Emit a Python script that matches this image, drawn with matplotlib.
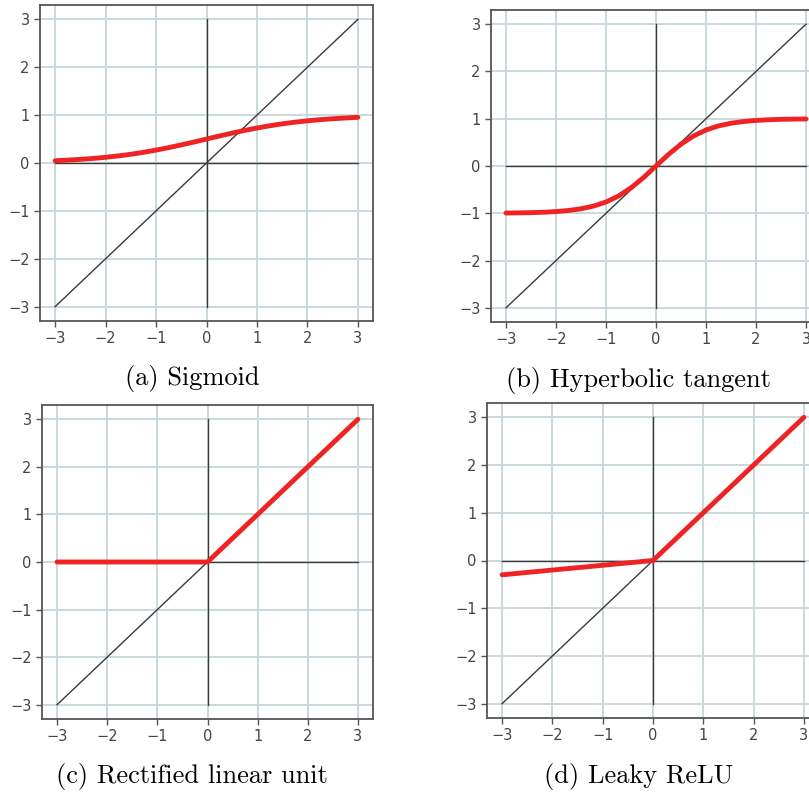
import numpy as np
import matplotlib
matplotlib.use("Agg")
from matplotlib import pyplot as plt

# valores
x_curva = [-3, -2.75, -2.5, -2.25, -2, -1.75, -1.5, -1.25, -1, -0.75, -0.5, -0.25, 0,
           0.25, 0.5, 0.75, 1, 1.25, 1.5, 1.75, 2, 2.25, 2.5, 2.75, 3]
y_sigmoid = [0.047, 0.060, 0.076, 0.095, 0.119, 0.148, 0.182, 0.223, 0.269, 0.321, 0.378, 0.438, 0.5,
             0.562, 0.622, 0.679, 0.731, 0.777, 0.818, 0.852, 0.881, 0.905, 0.924, 0.940, 0.953]
y_tanh = [-0.995, -0.992, -0.987, -0.978, -0.964, -0.941, -0.905, -0.848, -0.762, -0.635, -0.462, -0.245, 0,
          0.245, 0.462, 0.635, 0.762, 0.848, 0.905, 0.941, 0.964, 0.978, 0.987, 0.992, 0.995]
x_relu = [-3, 0, 3]
y_relu = [0, 0, 3]
x_leaky = [-3, 0, 3]
y_leaky = [-0.3, 0, 3]
x_ident = [-3, 3]
y_ident = [-3, 3]
ticks = [-3, -2, -1, 0, 1, 2, 3]

titulos = ["(a) Sigmoid", "(b) Hyperbolic tangent",
           "(c) Rectified linear unit", "(d) Leaky ReLU"]
curvas = [(x_curva, y_sigmoid), (x_curva, y_tanh), (x_relu, y_relu), (x_leaky, y_leaky)]

W, H = 809, 793
fig = plt.figure(figsize=(W / 100, H / 100), dpi=100)

# posiciones en pixeles: izquierda, arriba, ancho, alto
cajas = [(40, 5, 333, 316), (491, 10, 330, 312), (42, 405, 331, 314), (487, 403, 332, 315)]
pos_titulo = [(192, 378), (638, 380), (192, 777), (639, 777)]

gris = "#3a3a3a"
for caja, (xc, yc), titulo, (tx, ty) in zip(cajas, curvas, titulos, pos_titulo):
    l, t, w, h = caja
    ax = fig.add_axes([l / W, (H - t - h) / H, w / W, h / H])
    ax.set_xlim(-3.3, 3.3)
    ax.set_ylim(-3.3, 3.3)
    ax.set_xticks(ticks)
    ax.set_yticks(ticks)
    ax.grid(True, color="#c6d6da", linewidth=1.3)
    ax.set_axisbelow(True)
    ax.plot(x_ident, y_ident, color=gris, linewidth=1.0)
    ax.plot([-3, 3], [0, 0], color=gris, linewidth=1.0)
    ax.plot([0, 0], [-3, 3], color=gris, linewidth=1.0)
    ax.plot(xc, yc, color="#ee2424", linewidth=3.5, solid_capstyle="round")
    for s in ax.spines.values():
        s.set_color("#555555")
        s.set_linewidth(1.3)
    ax.tick_params(colors="#555555", labelcolor="#444444", labelsize=10.5, length=4, width=1)
    fig.text(tx / W, 1 - ty / H, titulo, fontfamily="cmr10", fontsize=19,
             ha="center", va="center")

fig.savefig("out.png", dpi=100)
